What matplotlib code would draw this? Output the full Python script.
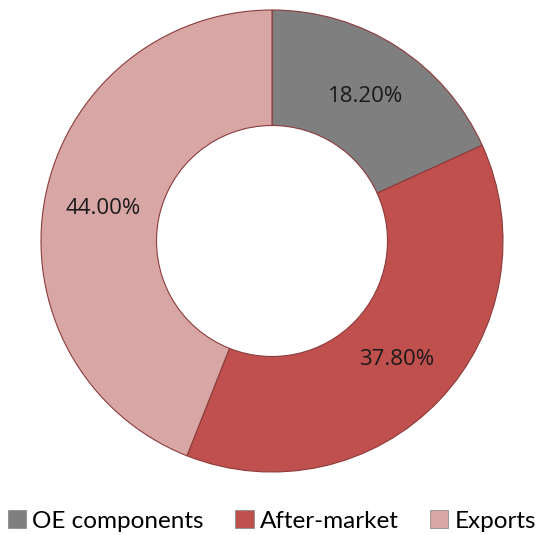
import matplotlib
matplotlib.use("Agg")
import matplotlib.pyplot as plt
from matplotlib.patches import Patch

categories = ["OE components", "After-market", "Exports"]
shares = [18.20, 37.80, 44.00]
colors = ["#7f7f7f", "#c0504d", "#d9a6a6"]

W, H = 544, 535
fig = plt.figure(figsize=(W / 100, H / 100), dpi=100)
cx, cy, R = 272, 294, 231
ax = fig.add_axes([(cx - R) / W, (cy - R) / H, 2 * R / W, 2 * R / H])

wedges, texts, autotexts = ax.pie(
    shares, colors=colors, startangle=90, counterclock=False,
    radius=1.0, autopct=lambda p: f"{p:.2f}%", pctdistance=0.745,
    wedgeprops=dict(width=0.5, edgecolor="#8c3b3b", linewidth=0.8),
    textprops=dict(fontsize=16, color="#1a1a1a", family="Open Sans"),
)
ax.set_xlim(-1, 1)
ax.set_ylim(-1, 1)
ax.set_aspect("equal")
ax.axis("off")

handles = [Patch(facecolor=c, edgecolor="#8c8c8c", linewidth=0.6) for c in colors]
fig.legend(handles, categories, loc="center", bbox_to_anchor=(0.5, 14 / H),
           ncol=3, frameon=False, handlelength=0.75, handleheight=0.75,
           handletextpad=0.25, columnspacing=1.3, borderpad=0.0,
           prop=dict(family="Lato", size=17.5))

fig.savefig("out.png", dpi=100)
